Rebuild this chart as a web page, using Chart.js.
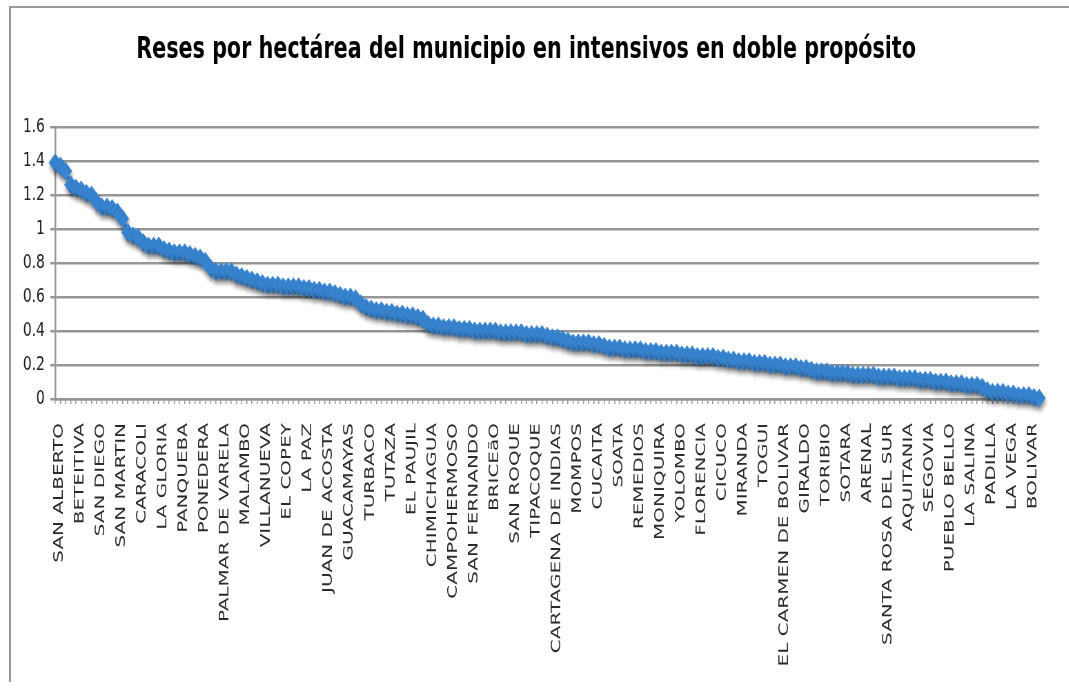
<!DOCTYPE html>
<html>
<head>
<meta charset="utf-8">
<script src="https://cdn.jsdelivr.net/npm/chart.js@4.4.1/dist/chart.umd.min.js"></script>
<style>
  html, body { margin: 0; padding: 0; background: #ffffff; overflow: hidden; }
  #frame { position: absolute; left: 9px; top: 6px; width: 1100px; height: 676px;
           border-left: 2px solid #9a9a9a; border-top: 2px solid #9a9a9a; box-sizing: border-box; }
  #wrap { position: absolute; left: 0; top: 0; width: 1549px; height: 690px;
          transform: scaleX(0.69); transform-origin: 0 0; }
</style>
</head>
<body>
<div id="frame"></div>
<div id="wrap"><canvas id="c" width="1549" height="690"></canvas></div>
<script>
// ---- data ----
const chartTitle = 'Reses por hectárea del municipio en intensivos en doble propósito';

// municipality names that are printed on the axis (one every 4 points)
const shownNames = [
  'SAN ALBERTO','BETEITIVA','SAN DIEGO','SAN MARTIN','CARACOLI','LA GLORIA','PANQUEBA',
  'PONEDERA','PALMAR DE VARELA','MALAMBO','VILLANUEVA','EL COPEY','LA PAZ','JUAN DE ACOSTA',
  'GUACAMAYAS','TURBACO','TUTAZA','EL PAUJIL','CHIMICHAGUA','CAMPOHERMOSO','SAN FERNANDO',
  'BRICEãO','SAN ROQUE','TIPACOQUE','CARTAGENA DE INDIAS','MOMPOS','CUCAITA','SOATA',
  'REMEDIOS','MONIQUIRA','YOLOMBO','FLORENCIA','CICUCO','MIRANDA','TOGUI',
  'EL CARMEN DE BOLIVAR','GIRALDO','TORIBIO','SOTARA','ARENAL','SANTA ROSA DEL SUR',
  'AQUITANIA','SEGOVIA','PUEBLO BELLO','LA SALINA','PADILLA','LA VEGA','BOLIVAR'
];
const labelEvery = 4;

// reses por hectárea, one value per municipality (sorted, as plotted)
const resesPorHa = [
  1.39,1.37,1.34,1.26,1.24,1.23,1.21,1.20,1.16,1.13,
  1.13,1.12,1.10,1.06,0.98,0.96,0.95,0.92,0.90,0.90,
  0.90,0.88,0.87,0.86,0.86,0.86,0.85,0.84,0.83,0.81,
  0.77,0.75,0.75,0.75,0.75,0.73,0.72,0.71,0.70,0.69,
  0.68,0.67,0.67,0.67,0.66,0.66,0.66,0.66,0.65,0.65,
  0.64,0.64,0.63,0.63,0.62,0.61,0.60,0.60,0.59,0.56,
  0.54,0.53,0.52,0.52,0.51,0.51,0.50,0.50,0.49,0.49,
  0.48,0.47,0.44,0.43,0.43,0.42,0.42,0.42,0.41,0.41,
  0.41,0.40,0.40,0.40,0.40,0.40,0.39,0.39,0.39,0.39,
  0.39,0.38,0.38,0.38,0.38,0.37,0.36,0.36,0.35,0.34,
  0.33,0.33,0.33,0.33,0.32,0.32,0.31,0.30,0.30,0.30,
  0.29,0.29,0.29,0.29,0.28,0.28,0.28,0.27,0.27,0.27,
  0.27,0.26,0.26,0.26,0.25,0.25,0.25,0.25,0.24,0.24,
  0.23,0.23,0.22,0.22,0.22,0.21,0.21,0.21,0.20,0.20,
  0.20,0.19,0.19,0.19,0.18,0.18,0.17,0.16,0.16,0.16,
  0.15,0.15,0.15,0.15,0.14,0.14,0.14,0.14,0.14,0.13,
  0.13,0.13,0.13,0.12,0.12,0.12,0.12,0.11,0.11,0.11,
  0.10,0.10,0.10,0.09,0.09,0.09,0.08,0.08,
  0.08,0.07,0.05,0.04,0.04,0.04,0.03,0.03,0.02,0.02,0.02,0.01,0.005
];

const yMin = 0, yMax = 1.6, yStep = 0.2;

// category list: a printed name every `labelEvery` points, the rest unprinted
const categories = resesPorHa.map((v, i) =>
  (i % labelEvery === 0 && shownNames[i / labelEvery] !== undefined) ? shownNames[i / labelEvery] : '');

const BLUE = '#3a88d6';
const GRID = '#969696';

const shadowPlugin = {
  id: 'markerShadow',
  beforeDatasetsDraw(chart) {
    const c = chart.ctx;
    c.save();
    c.shadowColor = 'rgba(0,0,0,0.4)';
    c.shadowBlur = 5;
    c.shadowOffsetX = 1;
    c.shadowOffsetY = 4;
  },
  afterDatasetsDraw(chart) { chart.ctx.restore(); }
};

new Chart(document.getElementById('c'), {
  type: 'line',
  data: {
    labels: categories,
    datasets: [{
      data: resesPorHa,
      borderColor: BLUE,
      borderWidth: 3,
      backgroundColor: BLUE,
      pointStyle: 'rectRot',
      pointRadius: 9,
      pointBackgroundColor: BLUE,
      pointBorderColor: BLUE,
      pointBorderWidth: 1,
      tension: 0,
      clip: false,
      fill: false
    }]
  },
  plugins: [shadowPlugin],
  options: {
    responsive: false,
    animation: false,
    layout: { padding: { left: 0, right: 24, top: 0, bottom: 0 } },
    plugins: {
      legend: { display: false },
      tooltip: { enabled: false },
      title: {
        display: true,
        text: chartTitle,
        color: '#000000',
        font: { family: 'DejaVu Sans', size: 30, weight: 'bold' },
        padding: { top: 32, bottom: 59 }
      }
    },
    scales: {
      x: {
        type: 'category',
        offset: false,
        grid: { display: true, drawOnChartArea: false, drawTicks: true, tickLength: 5, color: GRID, lineWidth: 1.5 },
        border: { display: true, color: GRID, width: 2.5 },
        ticks: {
          autoSkip: false, maxRotation: 90, minRotation: 90,
          padding: 19, labelOffset: 6,
          color: '#2a2a2a',
          font: { family: 'DejaVu Sans', size: 20 }
        },
        afterFit(scale) { scale.height = 291; }
      },
      y: {
        min: yMin, max: yMax,
        grid: { color: GRID, lineWidth: 2.5, tickLength: 7, drawTicks: true },
        border: { display: true, color: GRID, width: 2.5 },
        ticks: {
          stepSize: yStep, padding: 8,
          color: '#222222',
          font: { family: 'DejaVu Sans', size: 20 },
          callback: v => String(Number(v.toFixed(1)))
        },
        afterFit(scale) { scale.width = 80; }
      }
    }
  }
});
</script>
</body>
</html>
